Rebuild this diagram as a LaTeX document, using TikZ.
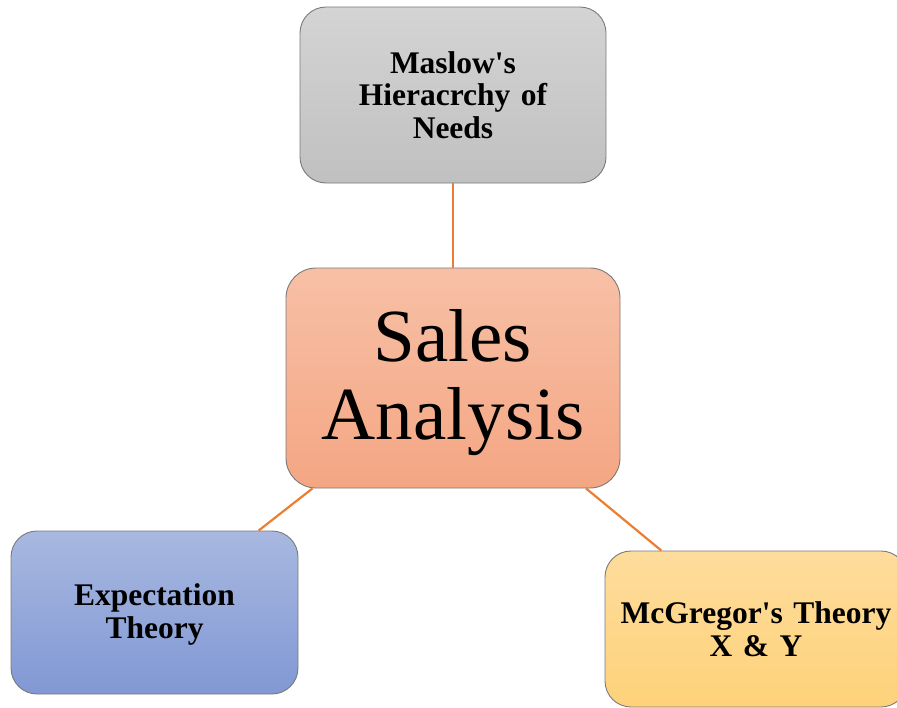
\documentclass[tikz,border=0pt]{standalone}
\usepackage{fontspec}
\setmainfont{Liberation Serif}[Ligatures=TeXOff]
\definecolor{linkor}{HTML}{ED7D31}
\definecolor{edgegray}{HTML}{7A7A7A}
\begin{document}
\begin{tikzpicture}[x=1pt,y=-1pt,
  box/.style={draw=edgegray, line width=0.9pt, rounded corners=26pt, align=center, inner sep=0pt},
  small/.style={box, font=\bfseries\fontsize{31.5}{32.5}\selectfont},
  lbl/.style={align=center, inner sep=0pt},
  link/.style={draw=linkor, line width=2.2pt}]
\useasboundingbox (0,0) rectangle (897,707);
\node[small, top color={rgb,255:red,212;green,212;blue,212}, bottom color={rgb,255:red,192;green,192;blue,192},
  minimum width=306pt, minimum height=176pt, text width=290pt] (maslow) at (453,95) {Maslow's\\Hieracrchy of\\Needs};
\node[box, top color={rgb,255:red,247;green,192;blue,166}, bottom color={rgb,255:red,244;green,166;blue,131},
  rounded corners=30pt, minimum width=334pt, minimum height=220pt] (sales) at (453,378) {};
\node[lbl, font=\fontsize{75}{78}\selectfont] (salest) at (453,383) {Sales\\Analysis};
\node[box, top color={rgb,255:red,168;green,184;blue,224}, bottom color={rgb,255:red,129;green,152;blue,212},
  minimum width=287pt, minimum height=163pt] (expect) at (154.5,612.5) {};
\node[lbl, font=\bfseries\fontsize{31.5}{32.5}\selectfont] (expectt) at (154.5,614.5) {Expectation\\Theory};
\node[small, top color={rgb,255:red,254;green,220;blue,156}, bottom color={rgb,255:red,254;green,210;blue,122},
  minimum width=302pt, minimum height=156pt, text width=295pt] (mcg) at (756,629) {McGregor's Theory\\X \& Y};
\draw[link] (maslow) -- (sales);
\draw[link] (sales) -- (expect);
\draw[link] (sales) -- (mcg);
\end{tikzpicture}
\end{document}
